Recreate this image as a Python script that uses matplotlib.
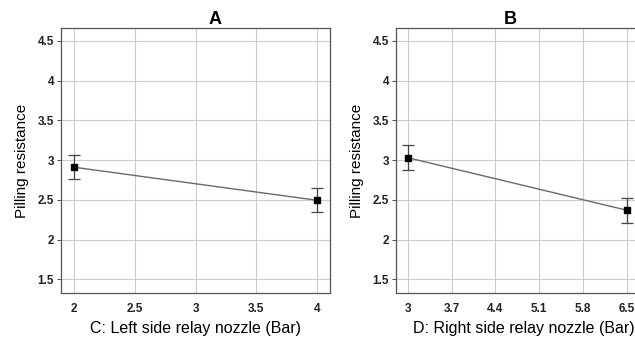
import numpy as np
import matplotlib
matplotlib.use("Agg")
import matplotlib.pyplot as plt

plt.rcParams["font.family"] = ["Liberation Sans", "DejaVu Sans"]

# ── data ──────────────────────────────────────────────────────────────
xa = [2, 4]
ya = [2.91, 2.495]
ea = [0.15, 0.15]
xa_ticks = [2, 2.5, 3, 3.5, 4]
xa_ticklabels = ["2", "2.5", "3", "3.5", "4"]

xb = [3, 6.5]
yb = [3.03, 2.37]
eb = [0.155, 0.155]
xb_ticks = [3, 3.7, 4.4, 5.1, 5.8, 6.5]
xb_ticklabels = ["3", "3.7", "4.4", "5.1", "5.8", "6.5"]

y_ticks = [1.5, 2, 2.5, 3, 3.5, 4, 4.5]
y_ticklabels = ["1.5", "2", "2.5", "3", "3.5", "4", "4.5"]

W, H = 635, 338
fig = plt.figure(figsize=(W / 100, H / 100), dpi=100)

def px_axes(l, t, r, b):
    return fig.add_axes([l / W, 1 - b / H, (r - l) / W, (b - t) / H])

axA = px_axes(61, 28, 330, 293)
axB = px_axes(396, 28, 645, 293)

panels = [
    (axA, xa, ya, ea, xa_ticks, xa_ticklabels, (1.89, 4.107), "A", 215,
     "C: Left side relay nozzle (Bar)", 195),
    (axB, xb, yb, eb, xb_ticks, xb_ticklabels, (2.81, 6.79), "B", 510,
     "D: Right side relay nozzle (Bar)", 524),
]

for ax, x, y, e, xt, xtl, xl, title, tx, xlabel, lx in panels:
    ax.plot(x, y, color="#6a6a6a", lw=1.0, zorder=3)
    ax.errorbar(x, y, yerr=e, fmt="none", ecolor="#444444", elinewidth=0.9,
                capsize=4.5, capthick=0.9, zorder=4)
    ax.plot(x, y, "s", color="black", ms=4.5, zorder=5)
    ax.set_xlim(*xl)
    ax.set_ylim(1.33, 4.66)
    ax.set_xticks(xt)
    ax.set_xticklabels(xtl, fontsize=8.5, fontweight="bold", color="#222222")
    ax.set_yticks(y_ticks)
    ax.set_yticklabels(y_ticklabels, fontsize=8.5, fontweight="bold", color="#222222")
    ax.tick_params(axis="y", length=3, width=0.8, color="#555555", pad=2)
    ax.tick_params(axis="x", length=0, pad=7)
    ax.grid(True, color="#cccccc", lw=0.8)
    ax.set_axisbelow(True)
    for s in ax.spines.values():
        s.set_color("#555555")
        s.set_linewidth(0.9)
    fig.text(tx / W, 1 - 28.5 / H, title, fontsize=13, fontweight="bold",
             ha="center", va="bottom")
    fig.text(lx / W, 2 / H, xlabel, fontsize=11.5, ha="center", va="bottom")
    ax.set_ylabel("Pilling resistance", fontsize=11, labelpad=6)

fig.savefig("out.png", dpi=100)
